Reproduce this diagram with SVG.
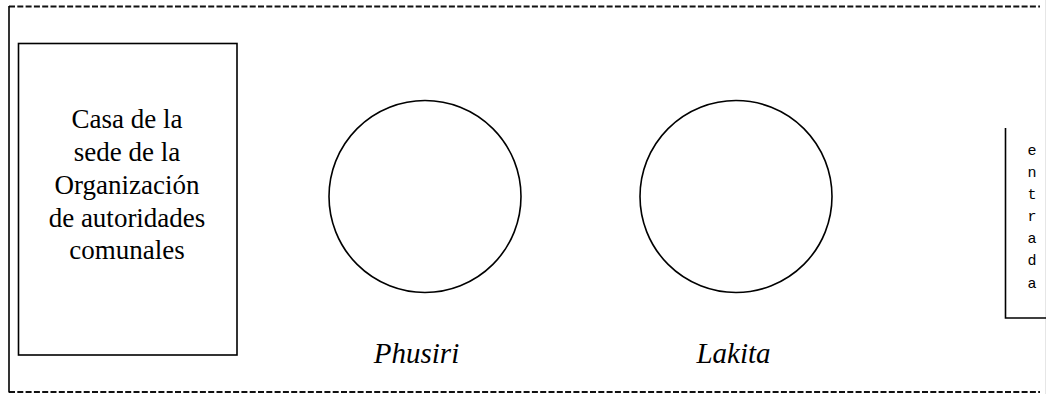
<svg xmlns="http://www.w3.org/2000/svg" width="1046" height="394" viewBox="0 0 1046 394">
<style>
.dash{stroke:#111;stroke-width:1.8;stroke-dasharray:6 2.3;fill:none}
.solid{stroke:#000;stroke-width:1.6;fill:none}
.lbl{font-family:"Liberation Serif","Times New Roman",serif;font-size:27px;fill:#000;text-anchor:middle}
.it{font-family:"Liberation Serif","Times New Roman",serif;font-size:29px;font-style:italic;fill:#000;text-anchor:middle}
.mono{font-family:"Liberation Mono","Courier New",monospace;font-size:15px;fill:#000;text-anchor:middle}
</style>
<rect width="1046" height="394" fill="#fff"/>
<g id="border">
<line class="dash" x1="9" y1="6.5" x2="1040" y2="6.5"/>
<line class="dash" x1="9" y1="392" x2="1040" y2="392"/>
<line class="solid" x1="9" y1="6" x2="9" y2="392.5"/>
<line x1="1045.5" y1="0" x2="1045.5" y2="394" stroke="#e6e6e6" stroke-width="1"/>
</g>
<g id="casa">
<rect class="solid" x="18.5" y="43.5" width="218.5" height="311.5"/>
<text class="lbl" x="127" y="128">Casa de la</text>
<text class="lbl" x="127" y="161">sede de la</text>
<text class="lbl" x="127" y="194">Organización</text>
<text class="lbl" x="127" y="227">de autoridades</text>
<text class="lbl" x="127" y="259">comunales</text>
</g>
<g id="phusiri">
<circle class="solid" cx="425" cy="196.5" r="96"/>
<text class="it" x="416.5" y="363">Phusiri</text>
</g>
<g id="lakita">
<circle class="solid" cx="736" cy="196.5" r="96"/>
<text class="it" x="733.5" y="363">Lakita</text>
</g>
<g id="entrada">
<path class="solid" d="M1005.5 128 V318 H1046"/>
<text class="mono" x="1032" y="155">e</text>
<text class="mono" x="1032" y="177">n</text>
<text class="mono" x="1032" y="199">t</text>
<text class="mono" x="1032" y="221">r</text>
<text class="mono" x="1032" y="243">a</text>
<text class="mono" x="1032" y="265">d</text>
<text class="mono" x="1032" y="288">a</text>
</g>
<g id="connectors"></g>
</svg>
